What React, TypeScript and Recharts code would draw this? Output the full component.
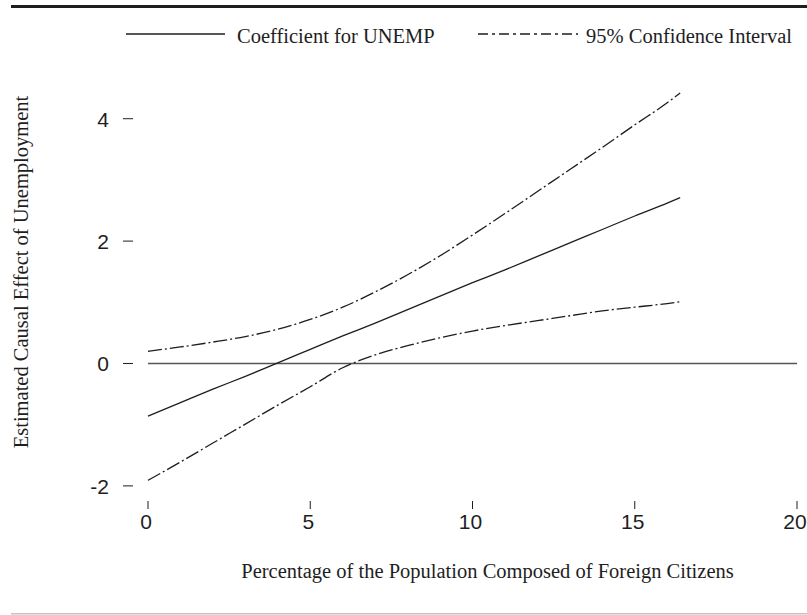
import React from 'react';
import { LineChart, Line, XAxis, YAxis, ReferenceLine } from 'recharts';

// values
const share = [0, 1, 2, 3, 4, 5, 6, 7, 8, 9, 10, 11, 12, 13, 14, 15, 16, 16.4];
const coef = [-0.86, -0.64, -0.42, -0.21, 0.01, 0.23, 0.45, 0.66, 0.88, 1.1, 1.32, 1.53, 1.75, 1.97, 2.19, 2.41, 2.62, 2.71];
const upper = [0.2, 0.27, 0.35, 0.44, 0.56, 0.72, 0.92, 1.17, 1.45, 1.76, 2.1, 2.45, 2.81, 3.17, 3.53, 3.9, 4.26, 4.42];
const lower = [-1.91, -1.61, -1.3, -0.99, -0.68, -0.38, -0.07, 0.14, 0.29, 0.42, 0.53, 0.62, 0.7, 0.78, 0.86, 0.92, 0.98, 1.01];

const xTicks = [0, 5, 10, 15, 20];
const yTicks = [-2, 0, 2, 4];

const data = share.map((x, i) => ({ x, coef: coef[i], upper: upper[i], lower: lower[i] }));

const SERIF = '"Liberation Serif", "Times New Roman", serif';
const SANS = '"Liberation Sans", Arial, sans-serif';
const INK = '#1e1e1e';
const CI_DASH = '14 3 2 3';

const XTick = (props: any) => {
  const { x, y, payload } = props;
  return (
    <g>
      <line x1={x} x2={x} y1={y + 9} y2={y + 17} stroke={INK} strokeWidth={1} />
      <text x={x - 2} y={y + 37} textAnchor="middle" fontFamily={SANS} fontSize={21} fill={INK}>
        {payload.value}
      </text>
    </g>
  );
};

const YTick = (props: any) => {
  const { x, y, payload } = props;
  return (
    <g>
      <line x1={x - 25} x2={x - 15} y1={y} y2={y} stroke={INK} strokeWidth={1} />
      <text x={x - 39} y={y + 8} textAnchor="end" fontFamily={SANS} fontSize={21} fill={INK}>
        {payload.value}
      </text>
    </g>
  );
};

const XTitle = (props: any) => {
  const { viewBox } = props;
  return (
    <text x={viewBox.x + viewBox.width / 2 + 15} y={viewBox.y + 86} textAnchor="middle" fontFamily={SERIF} fontSize={20.5} fill={INK}>
      Percentage of the Population Composed of Foreign Citizens
    </text>
  );
};

const YTitle = (props: any) => {
  const { viewBox } = props;
  const cx = 28;
  const cy = viewBox.y + 190;
  return (
    <text x={cx} y={cy} transform={`rotate(-90 ${cx} ${cy})`} textAnchor="middle" fontFamily={SERIF} fontSize={20.5} fill={INK}>
      Estimated Causal Effect of Unemployment
    </text>
  );
};

export default function App() {
  return (
    <div style={{ position: 'absolute', left: 0, top: 0, width: 807, height: 615, background: '#fff' }}>
      <svg width={807} height={615} style={{ position: 'absolute', left: 0, top: 0 }}>
        <rect x={11} y={5} width={796} height={3} fill={INK} />
        <rect x={11} y={613} width={796} height={1.5} fill="#c4c4c4" />
        <line x1={126} x2={225} y1={34} y2={34} stroke={INK} strokeWidth={1.3} />
        <text x={237} y={43} fontFamily={SERIF} fontSize={20.5} fill={INK}>Coefficient for UNEMP</text>
        <line x1={478} x2={578} y1={34} y2={34} stroke={INK} strokeWidth={1.3} strokeDasharray="10 4 3 4" />
        <text x={586} y={43} fontFamily={SERIF} fontSize={20.5} fill={INK}>95% Confidence Interval</text>
      </svg>
      <div style={{ position: 'absolute', left: 0, top: 0 }}>
        <LineChart width={807} height={615} data={data} margin={{ top: 82, right: 10, left: 0, bottom: 0 }}>
          <XAxis
            dataKey="x"
            type="number"
            domain={[0, 20]}
            ticks={xTicks}
            axisLine={false}
            tickLine={false}
            tickSize={0}
            tickMargin={0}
            height={123}
            tick={<XTick />}
            label={<XTitle />}
          />
          <YAxis
            type="number"
            domain={[-2.1, 4.6]}
            ticks={yTicks}
            axisLine={false}
            tickLine={false}
            tickSize={0}
            tickMargin={0}
            width={148}
            tick={<YTick />}
            label={<YTitle />}
          />
          <ReferenceLine y={0} stroke="#555" strokeWidth={1.4} />
          <Line type="monotone" dataKey="coef" stroke={INK} strokeWidth={1.3} dot={false} isAnimationActive={false} />
          <Line type="monotone" dataKey="upper" stroke={INK} strokeWidth={1.3} strokeDasharray={CI_DASH} dot={false} isAnimationActive={false} />
          <Line type="monotone" dataKey="lower" stroke={INK} strokeWidth={1.3} strokeDasharray={CI_DASH} dot={false} isAnimationActive={false} />
        </LineChart>
      </div>
    </div>
  );
}
